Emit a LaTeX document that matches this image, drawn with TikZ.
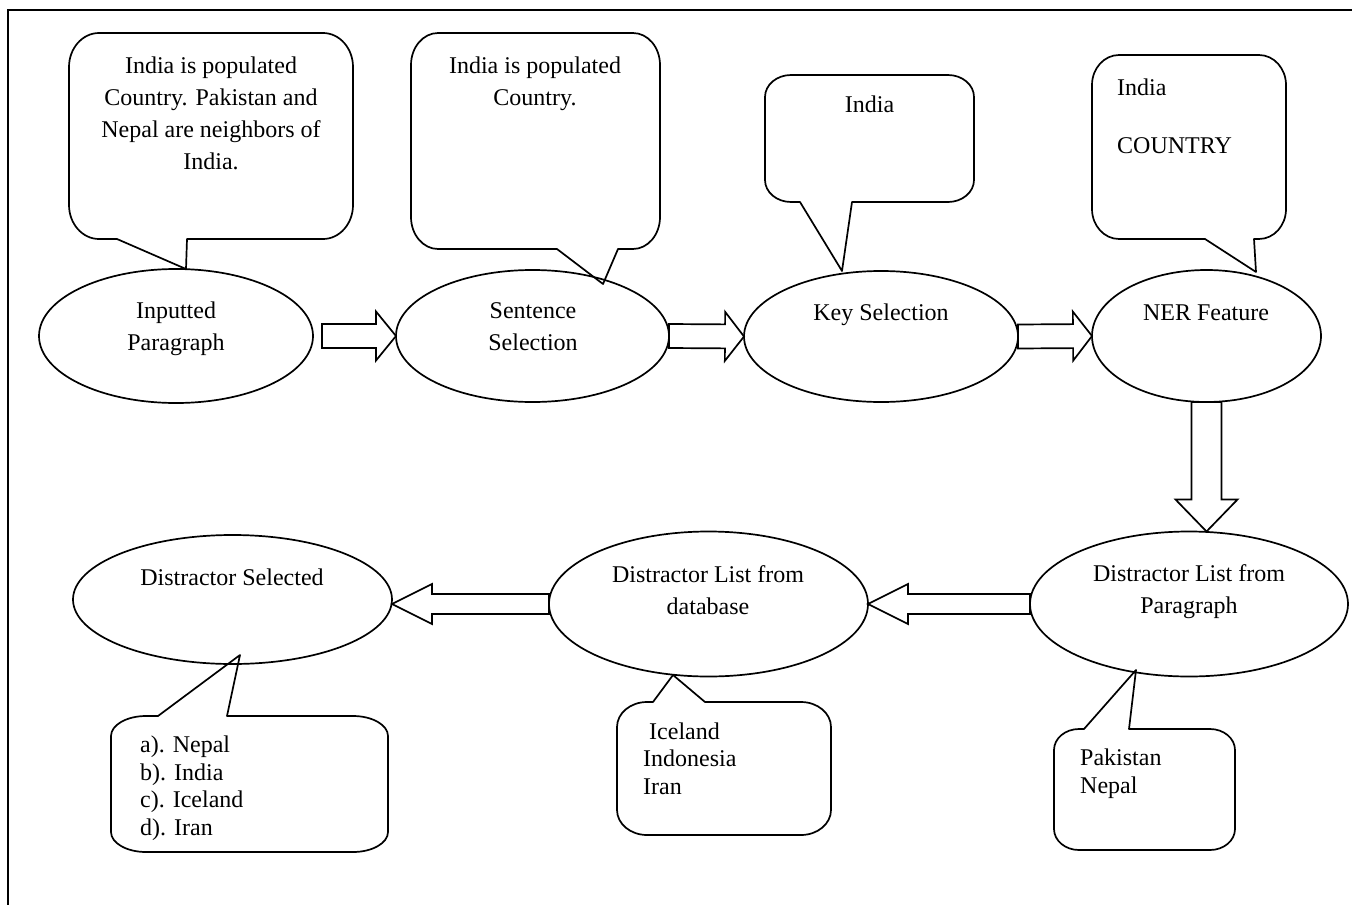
\documentclass[tikz,border=0pt]{standalone}
\usepackage{fontspec}
\setmainfont{Liberation Serif}
\usetikzlibrary{shapes.geometric,calc}

% callout: box with elliptic corners and a wedge on its bottom edge
% #1 x1  #2 y1  #3 x2  #4 y2  #5 corner x radius  #6 corner y radius
% #7 left base of wedge  #8 wedge tip (x,y)  #9 right base of wedge
\newcommand\wedgebelow[9]{%
  \draw[shape line] (#9,#4) -- ({#3-#5},#4)
    arc[start angle=90, end angle=0, x radius=#5, y radius=#6]
    -- (#3,{#2+#6})
    arc[start angle=0, end angle=-90, x radius=#5, y radius=#6]
    -- ({#1+#5},#2)
    arc[start angle=-90, end angle=-180, x radius=#5, y radius=#6]
    -- (#1,{#4-#6})
    arc[start angle=180, end angle=90, x radius=#5, y radius=#6]
    -- (#7,#4) -- (#8) -- cycle;}
% same, with the wedge on the top edge
\newcommand\wedgeabove[9]{%
  \draw[shape line] (#9,#2) -- ({#3-#5},#2)
    arc[start angle=-90, end angle=0, x radius=#5, y radius=#6]
    -- (#3,{#4-#6})
    arc[start angle=0, end angle=90, x radius=#5, y radius=#6]
    -- ({#1+#5},#4)
    arc[start angle=90, end angle=180, x radius=#5, y radius=#6]
    -- (#1,{#2+#6})
    arc[start angle=180, end angle=270, x radius=#5, y radius=#6]
    -- (#7,#2) -- (#8) -- cycle;}

\tikzset{
  shape line/.style={line width=1.7pt, line join=round, line cap=round},
  block/.style={line width=1.7pt, line join=miter},
  stage/.style={ellipse, draw, shape line, inner sep=0pt, outer sep=0pt},
  % multi-line texts are placed by the baseline of their last line
  label text/.style={inner sep=0pt, anchor=base, align=center,
    font=\fontsize{24pt}{32pt}\selectfont},
  list text/.style={inner sep=0pt, anchor=base west, align=left,
    font=\fontsize{24pt}{27.5pt}\selectfont},
  fat arrow/.style args={#1/#2/#3}{to path={
     ($(\tikztostart)!#1!90:(\tikztotarget)$)
     -- ($(\tikztotarget)!#3!(\tikztostart)!#1!90:(\tikztotarget)$)
     -- ($(\tikztotarget)!#3!(\tikztostart)!#2!90:(\tikztotarget)$)
     -- (\tikztotarget)
     -- ($(\tikztotarget)!#3!(\tikztostart)!#2!-90:(\tikztotarget)$)
     -- ($(\tikztotarget)!#3!(\tikztostart)!#1!-90:(\tikztotarget)$)
     -- ($(\tikztostart)!#1!-90:(\tikztotarget)$)
     -- cycle}},
}

\begin{document}
\begin{tikzpicture}[x=1pt, y=-1pt]
\useasboundingbox (0,0) rectangle (1352,905);
\fill[white] (0,0) rectangle (1352,905);

% frame
\draw[line width=2pt] (1352,10) -- (8,10) -- (8,905);

% process stages
\node[stage, minimum width=274pt, minimum height=134pt] (e1) at (176,336) {};
\node[stage, minimum width=273pt, minimum height=132pt] (e2) at (532.5,336) {};
\node[stage, minimum width=274pt, minimum height=131pt] (e3) at (881,336.5) {};
\node[stage, minimum width=229pt, minimum height=132pt] (e4) at (1206.5,336) {};
\node[stage, minimum width=318pt, minimum height=145pt] (e5) at (1189,604) {};
\node[stage, minimum width=319pt, minimum height=145pt] (e6) at (708.5,604) {};
\node[stage, minimum width=319pt, minimum height=129pt] (e7) at (232.5,599.5) {};

\node[label text] (l1) at (176,350) {Inputted\\Paragraph};
\node[label text] (l2) at (533,350) {Sentence\\Selection};
\node[label text] (l3) at (881,320) {Key Selection};
\node[label text] (l4) at (1206,320) {NER Feature};
\node[label text] (l5) at (1189,613) {Distractor List from\\Paragraph};
\node[label text] (l6) at (708,614) {Distractor List from\\database};
\node[label text] (l7) at (232,585) {Distractor Selected};

% block arrows between stages
\coordinate (a1s) at ($(e1.east)+(9,0)$);
\coordinate (a4t) at (e4.south |- e5.north);
\coordinate (a6t) at (e7.east |- e6.west);
\draw[block] (a1s) to[fat arrow=12pt/24.5pt/20pt] (e2.west);
\draw[block] (e2.east) to[fat arrow=12pt/24.5pt/19pt] (e3.west);
\draw[block] (e3.east) to[fat arrow=12pt/24.5pt/19pt] (e4.west);
\draw[block] (e4.south) to[fat arrow=15pt/31pt/32pt] (a4t);
\draw[block] (e5.west) to[fat arrow=10pt/20pt/40pt] (e6.east);
\draw[block] (e6.west) to[fat arrow=10pt/20pt/40pt] (a6t);

% callouts
\wedgebelow{69}{33}{353}{239}{30}{34}{117}{186,269}{187}
\wedgebelow{411}{33}{660}{249}{27}{32}{557}{603,284}{618}
\wedgebelow{765}{75}{974}{202}{26}{22}{800}{842,271}{852}
\wedgebelow{1092}{55}{1286}{239}{27}{30}{1205}{1256,272}{1254}
\wedgeabove{1054}{729}{1235}{850}{25}{21}{1084}{1136,670}{1129}
\wedgeabove{617}{702}{831}{835}{30}{25}{653}{673,675}{705}
\wedgeabove{111}{716}{388}{852}{35}{20}{158}{240,655}{227}

\node[label text] (c1) at (211,169) {India is populated\\Country. Pakistan and\\Nepal are neighbors of\\India.};
\node[label text] (c2) at (535,105) {India is populated\\Country.};
\node[label text] (c3) at (869.5,112) {India};
\node[label text, anchor=base west, align=left] (c4) at (1117,153) {India\\[26pt]COUNTRY};
\node[list text] (c5) at (1080,793) {Pakistan\\Nepal};
\node[list text] (c6) at (643,794) {\hspace*{6pt}Iceland\\Indonesia\\Iran};
\node[list text] (c7) at (140,835) {a). Nepal\\b). India\\c). Iceland\\d). Iran};
\end{tikzpicture}
\end{document}
